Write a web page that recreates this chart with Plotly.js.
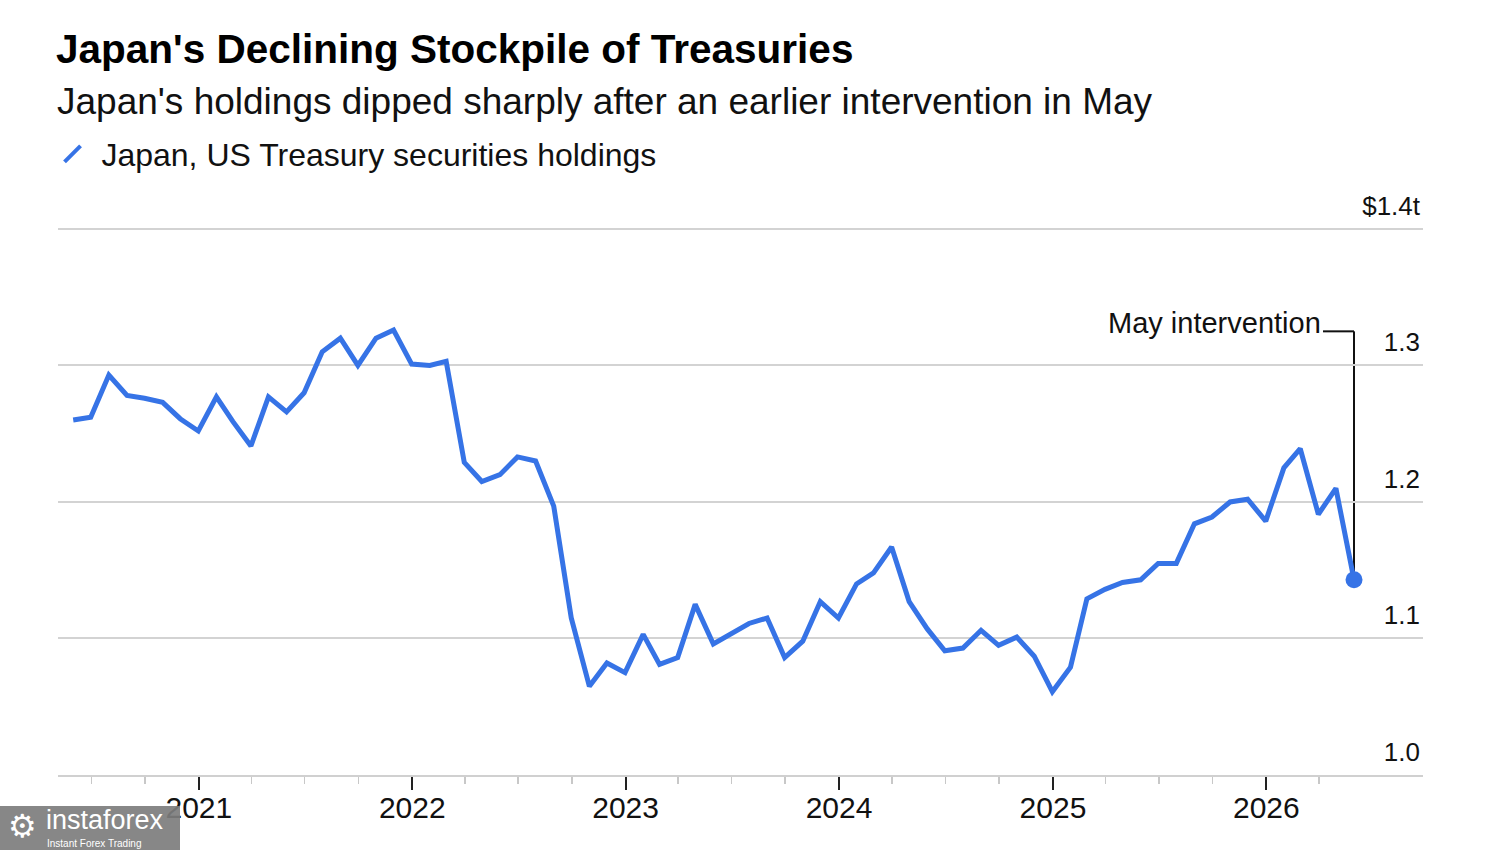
<!DOCTYPE html>
<html>
<head>
<meta charset="utf-8">
<script src="https://cdn.plot.ly/plotly-3.0.1.min.js"></script>
<style>html,body{margin:0;padding:0;background:#fff;}#chart{width:1500px;height:850px;}</style>
</head>
<body>
<div id="chart"></div>
<script>
// ---- Data ----
const START_YEAR = 2020;
const START_MONTH = 5; // May 2020, month-end observations
const holdings = [
  1.260, 1.262, 1.293, 1.278, 1.276, 1.273, 1.261, 1.252,
  1.277, 1.259, 1.241, 1.277, 1.266, 1.280, 1.310, 1.320, 1.300, 1.320, 1.326, 1.301,
  1.300, 1.303, 1.229, 1.215, 1.220, 1.233, 1.230, 1.197, 1.115, 1.065, 1.082, 1.075,
  1.103, 1.081, 1.086, 1.125, 1.096, 1.103, 1.111, 1.115, 1.086, 1.098, 1.127, 1.115,
  1.140, 1.148, 1.167, 1.127, 1.107, 1.091, 1.093, 1.106, 1.095, 1.101, 1.087, 1.061,
  1.079, 1.129, 1.136, 1.141, 1.143, 1.155, 1.155, 1.184, 1.189, 1.200, 1.202, 1.186,
  1.225, 1.239, 1.191, 1.210, 1.143
];
const yTickVals = [1.0, 1.1, 1.2, 1.3, 1.4];
const yTickText = ['1.0', '1.1', '1.2', '1.3', '$1.4t'];
const xTickVals = ['2021-01-01', '2022-01-01', '2023-01-01', '2024-01-01', '2025-01-01', '2026-01-01'];
const xTickText = ['2021', '2022', '2023', '2024', '2025', '2026'];
const seriesName = 'Japan, US Treasury securities holdings';
const calloutText = 'May intervention';
const calloutLevel = 1.325;

// month-end dates for each observation
function monthEnd(y, m) { // m: 1..12
  const d = new Date(Date.UTC(y, m, 0));
  return d.toISOString().slice(0, 10);
}
const dates = holdings.map((_, i) => {
  const idx = START_MONTH - 1 + i;
  return monthEnd(START_YEAR + Math.floor(idx / 12), (idx % 12) + 1);
});
const lastDate = dates[dates.length - 1];
const lastVal = holdings[holdings.length - 1];

const BLUE = '#3673e6';
const FONT = 'Liberation Sans, Arial, Helvetica, sans-serif';
const X_RANGE = ['2020-05-05', '2026-09-26'];
const Y_RANGE = [1.0, 1.43];
const PH = 587; // plot height in px (for paper-coordinate placement)
const py = p => (775 - p) / PH;
const px = p => (p - 58) / 1365;

const traces = [
  {
    x: dates, y: holdings, type: 'scatter', mode: 'lines',
    line: {color: BLUE, width: 5, shape: 'linear'},
    showlegend: false, hoverinfo: 'x+y'
  },
  {
    x: [lastDate], y: [lastVal], type: 'scatter', mode: 'markers',
    marker: {color: BLUE, size: 17},
    showlegend: false, hoverinfo: 'skip'
  },
  {
    x: [null], y: [null], type: 'scatter', mode: 'markers', xaxis: 'x2',
    name: '\u00a0' + seriesName,
    marker: {color: BLUE, symbol: 'line-ne-open', size: 16, line: {color: BLUE, width: 4}},
    showlegend: true
  }
];

const layout = {
  width: 1500, height: 850,
  paper_bgcolor: '#fff', plot_bgcolor: '#fff',
  font: {family: FONT, color: '#111', size: 26},
  margin: {l: 58, r: 77, t: 188, b: 75, pad: 0},
  title: {
    text: "Japan's Declining Stockpile of Treasuries",
    font: {family: FONT, size: 40.5, color: '#000', weight: 'bold'},
    xref: 'container', x: 56 / 1500, xanchor: 'left',
    yref: 'container', y: 1 - 49 / 850, yanchor: 'middle'
  },
  showlegend: true,
  legend: {
    x: -0.004, xanchor: 'left', xref: 'paper',
    y: py(154), yanchor: 'middle', yref: 'paper',
    font: {family: FONT, size: 32, color: '#111'},
    bgcolor: 'rgba(0,0,0,0)', borderwidth: 0
  },
  xaxis: {
    type: 'date',
    range: X_RANGE,
    tickmode: 'array', tickvals: xTickVals, ticktext: xTickText,
    showticklabels: false,
    ticks: 'outside', ticklen: 13, tickwidth: 2, tickcolor: '#222',
    showgrid: false, zeroline: false,
    showline: true, linecolor: '#d0d0d0', linewidth: 2,
    minor: {dtick: 'M3', tick0: '2021-01-01', ticks: 'outside', ticklen: 7, tickwidth: 1.5, tickcolor: '#c8c8c8', showgrid: false},
    fixedrange: true
  },
  xaxis2: {
    type: 'date', overlaying: 'x', anchor: 'y', side: 'bottom',
    range: X_RANGE,
    tickmode: 'array', tickvals: xTickVals, ticktext: xTickText,
    ticks: '', ticklabelstandoff: 12,
    tickfont: {family: FONT, size: 30, color: '#111'},
    showgrid: false, zeroline: false, showline: false,
    fixedrange: true
  },
  yaxis: {
    range: Y_RANGE,
    side: 'right',
    tickmode: 'array', tickvals: yTickVals, ticktext: yTickText,
    ticklabelposition: 'inside top',
    ticklabelshift: -5,
    ticks: '',
    tickfont: {family: FONT, size: 26, color: '#111'},
    showgrid: true, gridcolor: '#d3d3d3', gridwidth: 2,
    zeroline: false, showline: false,
    fixedrange: true
  },
  shapes: [
    {type: 'line', xref: 'x', yref: 'y', x0: lastDate, x1: lastDate, y0: lastVal, y1: calloutLevel,
     line: {color: '#111', width: 2}, layer: 'below'},
    {type: 'line', xref: 'x', yref: 'y', xsizemode: 'pixel', xanchor: lastDate, x0: -31, x1: 0,
     y0: calloutLevel, y1: calloutLevel, line: {color: '#111', width: 2}, layer: 'below'},
    {type: 'rect', xref: 'paper', yref: 'paper', x0: px(0), x1: px(180),
     y0: py(852), y1: py(806), fillcolor: 'rgba(125,125,125,0.92)',
     line: {width: 0}, layer: 'above'}
  ],
  annotations: [
    {text: "Japan's holdings dipped sharply after an earlier intervention in May",
     xref: 'paper', yref: 'paper', x: -0.002, y: py(101), xanchor: 'left', yanchor: 'middle',
     showarrow: false, font: {family: FONT, size: 37, color: '#111'}},
    {text: calloutText, xref: 'x', yref: 'y', x: lastDate, y: calloutLevel,
     xanchor: 'right', yanchor: 'middle', xshift: -31, yshift: 8,
     showarrow: false, font: {family: FONT, size: 29, color: '#111'}},
    {text: '⚙', xref: 'paper', yref: 'paper', x: px(22), y: py(826),
     xanchor: 'center', yanchor: 'middle', showarrow: false,
     font: {family: 'DejaVu Sans', size: 32, color: '#fff'}},
    {text: 'instaforex', xref: 'paper', yref: 'paper', x: px(44), y: py(820),
     xanchor: 'left', yanchor: 'middle', showarrow: false,
     font: {family: FONT, size: 27, color: '#fff'}},
    {text: 'Instant Forex Trading', xref: 'paper', yref: 'paper', x: px(45), y: py(843),
     xanchor: 'left', yanchor: 'middle', showarrow: false,
     font: {family: FONT, size: 10, color: '#fff'}}
  ]
};

Plotly.newPlot('chart', traces, layout, {displayModeBar: false, staticPlot: true});
</script>
</body>
</html>
